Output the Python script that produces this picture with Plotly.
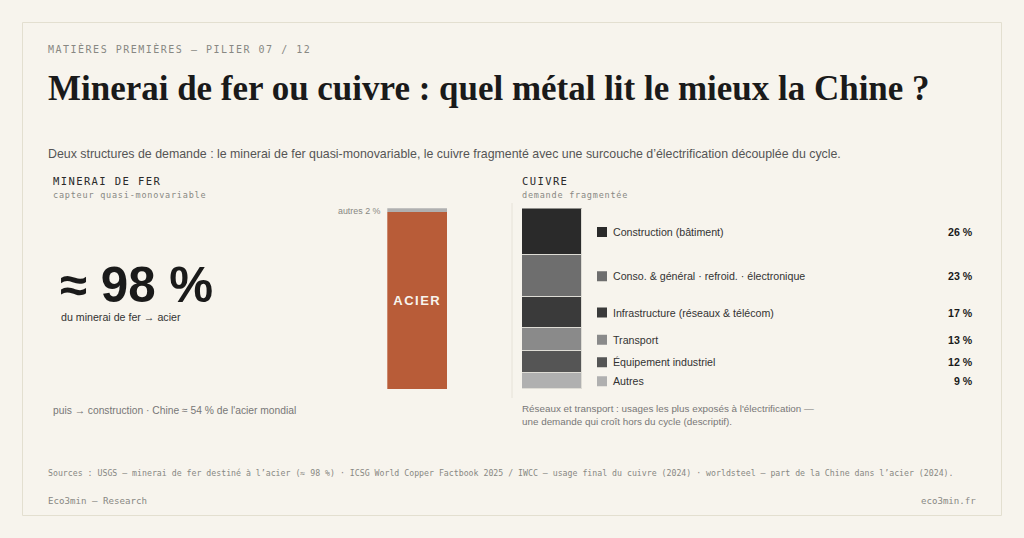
import json

import plotly.graph_objects as go

WIDTH = 1024
HEIGHT = 538
BG = "#f7f4ed"
SANS = "Liberation Sans"
SERIF = "Liberation Serif"
MONO = "DejaVu Sans Mono"
MUTED = "#888883"

# Data
iron_labels = ["Acier", "Autres"]
iron_values = [98, 2]
copper_labels = [
    "Construction (bâtiment)",
    "Conso. & général · refroid. · électronique",
    "Infrastructure (réseaux & télécom)",
    "Transport",
    "Équipement industriel",
    "Autres",
]
copper_values = [26, 23, 17, 13, 12, 9]
copper_colors = ["#2a2a2a", "#6e6e6e", "#3a3a3a", "#8a8a8a", "#555555", "#b0b0b0"]
iron_colors = ["#b85c38", "#b0b0b0"]


def px(x):
    return x / WIDTH


def py(y):
    return 1 - y / HEIGHT


fig = go.Figure()

# Iron ore bar
for name, value, color in zip(iron_labels, iron_values, iron_colors):
    fig.add_trace(go.Bar(x=["fer"], y=[value], name=name, marker=dict(color=color, line=dict(width=0)),
                         xaxis="x", yaxis="y", showlegend=False))

# Copper bar, segments start from the top
for name, value, color in zip(copper_labels, copper_values, copper_colors):
    fig.add_trace(go.Bar(x=["cuivre"], y=[value], name=name, marker=dict(color=color, line=dict(color="#dedcd5", width=1)),
                         xaxis="x2", yaxis="y2", showlegend=False))

# Middle of each copper segment: the legend rows sit there
mids = []
running = 0
for value in copper_values:
    mids.append(running + value / 2)
    running += value

fig.add_trace(go.Scatter(x=[0.5] * len(mids), y=mids, mode="markers", xaxis="x3", yaxis="y2", showlegend=False,
                         marker=dict(symbol="square", size=10, color=copper_colors, line=dict(width=0)),
                         text=copper_labels, hoverinfo="text"))

annotations = []
spacing = []


def label(text, x, y, size, color, font=SANS, anchor="left", weight=400, ls=0, xref="paper", yref="paper", yshift=0):
    annotations.append(dict(
        text=text, x=x, y=y, xref=xref, yref=yref, xanchor=anchor, yanchor="middle",
        showarrow=False, borderpad=0, borderwidth=0, yshift=yshift,
        font=dict(family=font, size=size, color=color, weight=weight),
    ))
    spacing.append([ls, anchor])


# Header
label("MATIÈRES PREMIÈRES — PILIER 07 / 12", px(48), py(49.5), 10, MUTED, MONO, ls=1.5)
label("Minerai de fer ou cuivre : quel métal lit le mieux la Chine ?", px(48), py(88.5), 34.98, "#1a1a1a", SERIF, weight=700)
label("Deux structures de demande : le minerai de fer quasi-monovariable, le cuivre fragmenté avec une surcouche d’électrification découplée du cycle.",
      px(48), py(154), 12.37, "#555555")

# Left panel
label("MINERAI DE FER", px(53), py(181), 10.5, "#2a2a2a", MONO, ls=1.4)
label("capteur quasi-monovariable", px(53), py(195), 8.5, MUTED, MONO, ls=0.78)
label("≈ 98 %", px(60), py(284.5), 49.3, "#1a1a1a", weight=700)
label("du minerai de fer → acier", px(61), py(317), 10.65, "#333333")
label("puis → construction · Chine ≈ 54 % de l'acier mondial", px(53), py(410), 10.28, "#777777")
label("autres 2 %", px(381), 99, 8.9, MUTED, anchor="right", yref="y", yshift=-1)
label("ACIER", "fer", 49, 13, "#f7f4ed", anchor="center", weight=700, ls=1.5, xref="x", yref="y")

# Right panel
label("CUIVRE", px(522), py(181), 10.5, "#2a2a2a", MONO, ls=1.4)
label("demande fragmentée", px(522), py(195), 8.5, MUTED, MONO, ls=0.78)
for name, value, mid in zip(copper_labels, copper_values, mids):
    label(name, px(613), mid, 10.65, "#333333", yref="y2")
    label(f"{value} %", px(973.4), mid, 10.6, "#1a1a1a", anchor="right", weight=700, yref="y2")
label("Réseaux et transport : usages les plus exposés à l'électrification —", px(522), py(408), 9.86, "#777777")
label("une demande qui croît hors du cycle (descriptif).", px(522), py(421), 9.86, "#777777")

# Footer
label("Sources : USGS — minerai de fer destiné à l’acier (≈ 98 %) · ICSG World Copper Factbook 2025 / IWCC — usage final du cuivre (2024) · worldsteel — part de la Chine dans l’acier (2024).",
      px(48), py(473), 8.23, MUTED, MONO)
label("Eco3min — Research", px(48), py(501), 9.15, MUTED, MONO)
label("eco3min.fr", px(921), py(501), 9.1, MUTED, MONO)

hidden = dict(visible=False, fixedrange=True)

fig.update_layout(
    width=WIDTH,
    height=HEIGHT,
    margin=dict(l=0, r=0, t=0, b=0),
    paper_bgcolor=BG,
    plot_bgcolor="rgba(0,0,0,0)",
    barmode="stack",
    bargap=0,
    xaxis=dict(domain=[px(387.3), px(447.3)], **hidden),
    yaxis=dict(domain=[py(389.3), py(208.2)], range=[0, 100], **hidden),
    xaxis2=dict(domain=[px(522), px(582.4)], anchor="y2", **hidden),
    yaxis2=dict(domain=[py(389.5), py(208.4)], range=[100, 0], **hidden),
    xaxis3=dict(domain=[px(592), px(612)], range=[0, 1], anchor="y2", **hidden),
    annotations=annotations,
    shapes=[
        dict(type="rect", xref="paper", yref="paper", x0=px(22.5), x1=px(1001.5), y0=py(515.5), y1=py(22.5),
             line=dict(color="#e3dfd0", width=1), layer="below"),
        dict(type="line", xref="paper", yref="paper", x0=px(512), x1=px(512), y0=py(398), y1=py(203),
             line=dict(color="#e6e2d8", width=1), layer="below"),
    ],
)

# plotly has no letter-spacing option, set it on the rendered annotation texts.
# The texts are middle anchored, so left aligned ones get pushed back by half the growth.
post_script = """
document.body.style.margin = '0';
document.body.style.overflow = 'hidden';
var spacing = %s;
document.querySelectorAll('.annotation-text').forEach(function (t, i) {
    if (!spacing[i][0]) { return; }
    var before = t.getComputedTextLength();
    t.style.letterSpacing = spacing[i][0] + 'px';
    var after = t.getComputedTextLength();
    if (spacing[i][1] === 'left') { t.setAttribute('dx', (after - before) / 2); }
});
""" % json.dumps(spacing)

fig.write_html("out.html", post_script=post_script, config=dict(displayModeBar=False))
